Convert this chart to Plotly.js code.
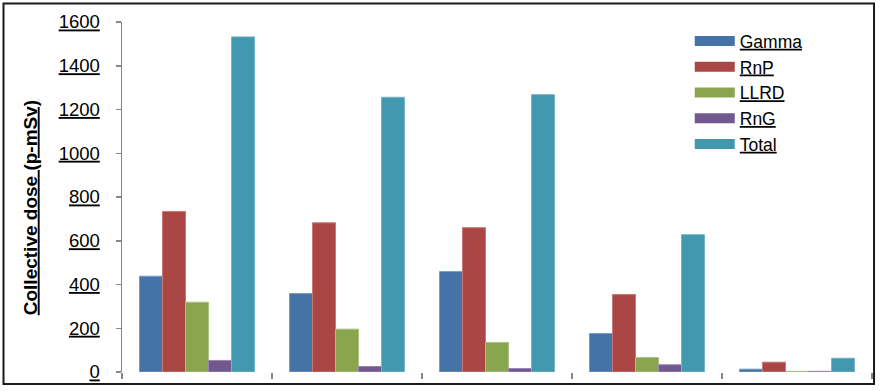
<!DOCTYPE html>
<html>
<head>
<meta charset="utf-8">
<script src="https://cdn.plot.ly/plotly-3.0.1.min.js"></script>
<style>
html,body{margin:0;padding:0;background:#fff;}
#chart{width:880px;height:391px;}
</style>
</head>
<body>
<div id="chart"></div>
<script>
// Data
var categories = ["Group 1", "Group 2", "Group 3", "Group 4", "Group 5"];
var seriesNames = ["Gamma", "RnP", "LLRD", "RnG", "Total"];
var gamma = [438, 359, 459, 176, 13];
var rnp   = [734, 682, 660, 354, 45];
var llrd  = [319, 196, 135, 66, 3];
var rng   = [53, 25, 16, 33, 3];
var total = [1532, 1256, 1268, 628, 63];
var yTicks = [0, 200, 400, 600, 800, 1000, 1200, 1400, 1600];

var seriesValues = [gamma, rnp, llrd, rng, total];
var fillColors = ["#4572A7", "#AA4643", "#89A54E", "#71588F", "#4198AF"];
var edgeColors = ["#7B9CC6", "#C97A77", "#A9C27F", "#9A86B3", "#74B6C8"];

var traces = [];
seriesNames.forEach(function (name, i) {
  traces.push({
    type: "bar",
    name: name,
    x: categories,
    y: seriesValues[i],
    legendgroup: name,
    showlegend: false,
    marker: { color: fillColors[i], line: { color: edgeColors[i], width: 1 } },
    hoverinfo: "x+y+name"
  });
});
// legend-only entries with wide swatches
seriesNames.forEach(function (name, i) {
  traces.push({
    type: "scatter",
    mode: "lines",
    name: "<u>" + name + "</u>",
    x: [null],
    y: [null],
    legendgroup: name,
    showlegend: true,
    line: { color: fillColors[i], width: 10 },
    hoverinfo: "skip"
  });
});

var layout = {
  width: 880,
  height: 391,
  margin: { l: 122, r: 8, t: 22, b: 19 },
  paper_bgcolor: "#ffffff",
  plot_bgcolor: "#ffffff",
  font: { family: "Liberation Sans, Arial, sans-serif", color: "#000000", size: 18 },
  barmode: "group",
  bargap: 0.233,
  bargroupgap: 0,
  showlegend: true,
  legend: {
    x: 0.757, xanchor: "left",
    y: 0.997, yanchor: "top",
    bgcolor: "rgba(0,0,0,0)",
    borderwidth: 0,
    itemwidth: 40,
    font: { size: 17.5, color: "#000000" },
    tracegroupgap: 0
  },
  xaxis: {
    type: "category",
    showticklabels: false,
    showline: false,
    showgrid: false,
    zeroline: false,
    ticks: "outside",
    tickson: "boundaries",
    ticklen: 6,
    tickwidth: 1.5,
    tickcolor: "#868686"
  },
  yaxis: {
    range: [0, 1600],
    tickmode: "array",
    tickvals: yTicks,
    showgrid: false,
    zeroline: false,
    showline: true,
    linecolor: "#868686",
    linewidth: 1.5,
    ticks: "outside",
    ticklen: 5,
    tickwidth: 1.5,
    tickcolor: "#868686",
    ticklabelstandoff: 12,
    tickfont: { size: 18.5, color: "#000000", lineposition: "under" },
    title: {
      text: "<b><u>Collective dose (p-mSv)</u>&nbsp;&nbsp;&nbsp;&nbsp;</b>",
      font: { size: 19, color: "#000000" },
      standoff: 16
    }
  },
  shapes: [{
    type: "rect",
    xref: "paper", yref: "paper",
    x0: -0.158, x1: 1.0027,
    y0: -0.0343, y1: 1.0529,
    line: { color: "#1a1a1a", width: 2 },
    fillcolor: "rgba(0,0,0,0)",
    layer: "above"
  }]
};

Plotly.newPlot("chart", traces, layout, { displayModeBar: false, staticPlot: true });
</script>
</body>
</html>
